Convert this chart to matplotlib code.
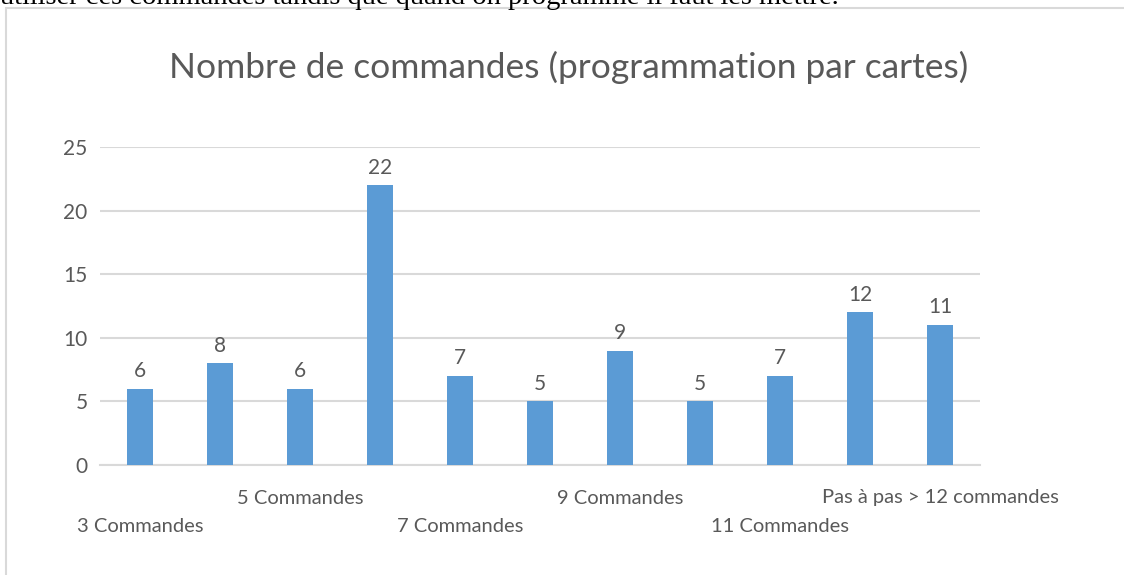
import matplotlib
matplotlib.use('Agg')
import matplotlib.pyplot as plt
from matplotlib.patches import Rectangle

# data
categories = ['3 Commandes', '4 Commandes', '5 Commandes', '6 Commandes',
              '7 Commandes', '8 Commandes', '9 Commandes', '10 Commandes',
              '11 Commandes', '12 Commandes', 'Pas à pas > 12 commandes']
values = [6, 8, 6, 22, 7, 5, 9, 5, 7, 12, 11]
shown = [0, 2, 4, 6, 8, 10]   # labels Excel actually displays
yticks = [0, 5, 10, 15, 20, 25]

grey = '#595959'
blue = '#5b9bd5'
plt.rcParams['font.family'] = ['Lato', 'DejaVu Sans']

W, H = 1124, 575
fig = plt.figure(figsize=(W / 100, H / 100), dpi=100)

# chart border (light grey frame, cut by page edges)
fig.patches.append(Rectangle((6 / W, -0.01), 1.2, 1 - 8 / H + 0.01,
                             transform=fig.transFigure, fill=False,
                             edgecolor='#d9d9d9', linewidth=1.5))
# bit of document text above the chart
fig.text(0.0, 1 - 4 / H,
         'utiliser ces commandes tandis que quand on programme il faut les mettre.',
         family='Liberation Serif', fontsize=20.5, color='black',
         ha='left', va='baseline')

ax = fig.add_axes([100 / W, 1 - 465 / H, 880 / W, 318 / H])
x = range(len(values))
ax.bar(x, values, width=0.33, color=blue, zorder=3)
ax.set_xlim(-0.5, len(values) - 0.5)
ax.set_ylim(0, 25)
ax.set_yticks(yticks)
ax.yaxis.grid(True, color='#d9d9d9', linewidth=1.5, zorder=0)
for s in ['top', 'right', 'left']:
    ax.spines[s].set_visible(False)
ax.spines['bottom'].set_color('#d9d9d9')
ax.spines['bottom'].set_linewidth(1.5)
ax.tick_params(axis='y', length=0, pad=9, labelsize=15, labelcolor=grey)
ax.set_xticks([])

for i, v in enumerate(values):
    ax.text(i, v + 0.6, str(v), ha='center', va='bottom',
            fontsize=15, color=grey)

for k, i in enumerate(shown):
    off = 33 if k % 2 == 1 else 62
    ax.annotate(categories[i], xy=(i, 0), xycoords='data',
                xytext=(0, -off), textcoords='offset pixels',
                ha='center', va='center', fontsize=14.5, color=grey)

fig.text(569 / W, 1 - 67 / H, 'Nombre de commandes (programmation par cartes)',
         ha='center', va='center', fontsize=25.5, color=grey)

fig.savefig('out.png', dpi=100)
